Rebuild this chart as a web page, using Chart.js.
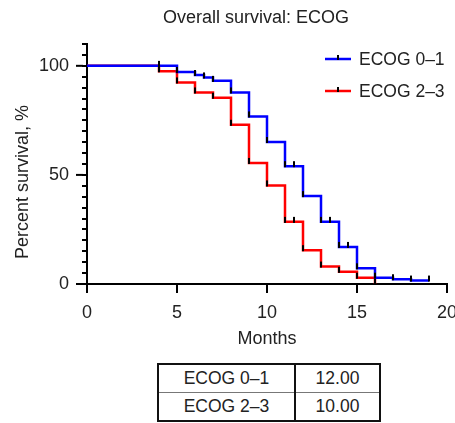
<!DOCTYPE html>
<html>
<head>
<meta charset="utf-8">
<script src="https://cdn.jsdelivr.net/npm/chart.js@4"></script>
<style>
  html, body { margin: 0; padding: 0; background: #fff; overflow: hidden; }
  #wrap { position: relative; width: 455px; height: 423px; }
  #chart { position: absolute; left: 0; top: 0; }
  #medians {
    position: absolute; left: 157px; top: 363px;
    border-collapse: collapse; border: 2px solid #111;
    font-family: "Liberation Sans", Arial, sans-serif; font-size: 17.5px; color: #222;
  }
  #medians td { height: 27px; padding: 0; text-align: center; }
  #medians td.name { width: 135px; border-right: 2px solid #111; }
  #medians td.val { width: 83px; }
  #medians tr + tr td { border-top: 1px solid #777; }
</style>
</head>
<body>
<div id="wrap">
  <canvas id="chart" width="480" height="351"></canvas>
  <table id="medians"><tbody></tbody></table>
</div>
<script>
// series labels + median survival (months)
const groups = ['ECOG 0\u20131', 'ECOG 2\u20133'];
const medians = ['12.00', '10.00'];

// ECOG 0-1 Kaplan-Meier steps
const blueMonths = [0, 5, 6, 6.5, 7, 8, 9, 10, 11, 12, 13, 14, 15, 16, 17, 18, 19];
const blueSurv = [100, 97.2, 95.8, 94.7, 93.1, 87.8, 76.8, 65.1, 54, 40.3, 28.5, 17, 7.2, 2.9, 2.2, 1.6, 1.6];
const blueCensored = [4, 5, 6, 6.5, 7, 8, 9, 10, 11, 11.5, 12, 13, 13.5, 14, 14.5, 15, 16, 17, 18, 19];

// ECOG 2-3 Kaplan-Meier steps
const redMonths = [0, 4, 5, 6, 7, 8, 9, 10, 11, 12, 13, 14, 15, 16];
const redSurv = [100, 97.5, 92.4, 87.8, 85.4, 73, 55.5, 45.2, 28.5, 15.5, 8, 5.6, 2.9, 0];
const redCensored = [4, 5, 6, 7, 8, 9, 10, 11, 11.5, 12, 13, 14, 15, 16];

const xTicks = [0, 5, 10, 15, 20];
const yLabels = [0, 50, 100];

const FONT = '"Liberation Sans", Arial, sans-serif';
const TXT = '#222';

function pts(xs, ys) {
  return xs.map((x, i) => ({ x: x, y: ys[i] }));
}
// survival value at time t (step function)
function survAt(xs, ys, t) {
  let v = ys[0];
  for (let i = 0; i < xs.length; i++) {
    if (xs[i] <= t) v = ys[i];
  }
  return v;
}
function censorPts(times, xs, ys) {
  return times.map(t => ({ x: t, y: survAt(xs, ys, t) }));
}

// censor mark: short vertical dash sitting on top of the line
const mark = document.createElement('canvas');
mark.width = 2;
mark.height = 12;
const mctx = mark.getContext('2d');
mctx.fillStyle = '#000';
mctx.fillRect(0, 1, 2, 6);

// table
const tbody = document.querySelector('#medians tbody');
groups.forEach((g, i) => {
  const tr = document.createElement('tr');
  tr.innerHTML = '<td class="name">' + g + '</td><td class="val">' + medians[i] + '</td>';
  tbody.appendChild(tr);
});

const extras = {
  id: 'extras',
  afterDraw(chart) {
    const ctx = chart.ctx;
    const y = chart.scales.y;
    const area = chart.chartArea;
    ctx.save();
    // longer major ticks on y axis
    ctx.strokeStyle = '#000';
    ctx.lineWidth = 2;
    yLabels.forEach(v => {
      const py = y.getPixelForValue(v);
      ctx.beginPath();
      ctx.moveTo(area.left - 11, py);
      ctx.lineTo(area.left - 4, py);
      ctx.stroke();
    });
    // title
    ctx.fillStyle = TXT;
    ctx.font = '18px ' + FONT;
    ctx.textAlign = 'center';
    ctx.textBaseline = 'middle';
    ctx.fillText('Overall survival: ECOG', 256, 18);
    // y title
    ctx.save();
    ctx.translate(23, 182);
    ctx.rotate(-Math.PI / 2);
    ctx.fillText('Percent survival, %', 0, 0);
    ctx.restore();
    // legend
    const colors = ['#0000ff', '#ff0000'];
    const rows = [59, 91];
    ctx.font = '17.5px ' + FONT;
    ctx.textAlign = 'left';
    groups.forEach((g, i) => {
      ctx.strokeStyle = colors[i];
      ctx.lineWidth = 2.5;
      ctx.beginPath();
      ctx.moveTo(325, rows[i]);
      ctx.lineTo(351, rows[i]);
      ctx.stroke();
      ctx.strokeStyle = '#000';
      ctx.lineWidth = 2;
      ctx.beginPath();
      ctx.moveTo(338, rows[i] - 4);
      ctx.lineTo(338, rows[i] + 1);
      ctx.stroke();
      ctx.fillStyle = TXT;
      ctx.fillText(g, 359, rows[i] + 1);
    });
    ctx.restore();
  }
};

const ctx = document.getElementById('chart').getContext('2d');
new Chart(ctx, {
  type: 'line',
  data: {
    datasets: [
      {
        label: groups[0],
        data: pts(blueMonths, blueSurv),
        borderColor: '#0000ff',
        borderWidth: 2.5,
        stepped: true,
        pointRadius: 0,
        fill: false,
        order: 1
      },
      {
        label: groups[1],
        data: pts(redMonths, redSurv),
        borderColor: '#ff0000',
        borderWidth: 2.5,
        stepped: true,
        pointRadius: 0,
        fill: false,
        order: 2
      },
      {
        label: 'censored 0-1',
        data: censorPts(blueCensored, blueMonths, blueSurv),
        showLine: false,
        pointStyle: mark,
        pointRadius: 3,
        order: 0
      },
      {
        label: 'censored 2-3',
        data: censorPts(redCensored, redMonths, redSurv),
        showLine: false,
        pointStyle: mark,
        pointRadius: 3,
        order: 0
      }
    ]
  },
  options: {
    responsive: false,
    animation: false,
    layout: { padding: { top: 44, right: 33, left: 0, bottom: 0 } },
    plugins: {
      legend: { display: false },
      tooltip: { enabled: false },
      title: { display: false }
    },
    scales: {
      x: {
        type: 'linear',
        min: 0,
        max: 20,
        afterBuildTicks(scale) {
          scale.ticks = xTicks.map(v => ({ value: v }));
        },
        afterFit(scale) { scale.height = 67; },
        border: { display: true, color: '#000', width: 2 },
        grid: { drawOnChartArea: false, drawTicks: true, tickLength: 9, color: '#000', lineWidth: 2 },
        ticks: { color: TXT, font: { family: FONT, size: 18 }, padding: 9, maxRotation: 0 },
        title: { display: true, text: 'Months', color: TXT, font: { family: FONT, size: 18 }, padding: { top: 0, bottom: 1 } }
      },
      y: {
        min: 0,
        max: 110,
        afterFit(scale) { scale.width = 87; },
        border: { display: true, color: '#000', width: 2 },
        grid: { drawOnChartArea: false, drawTicks: true, tickLength: 5, color: '#000', lineWidth: 2 },
        ticks: {
          stepSize: 5,
          autoSkip: false,
          color: TXT,
          font: { family: FONT, size: 18 },
          padding: 13,
          callback: v => (yLabels.includes(v) ? String(v) : '')
        },
        title: { display: false }
      }
    }
  },
  plugins: [extras]
});
</script>
</body>
</html>
